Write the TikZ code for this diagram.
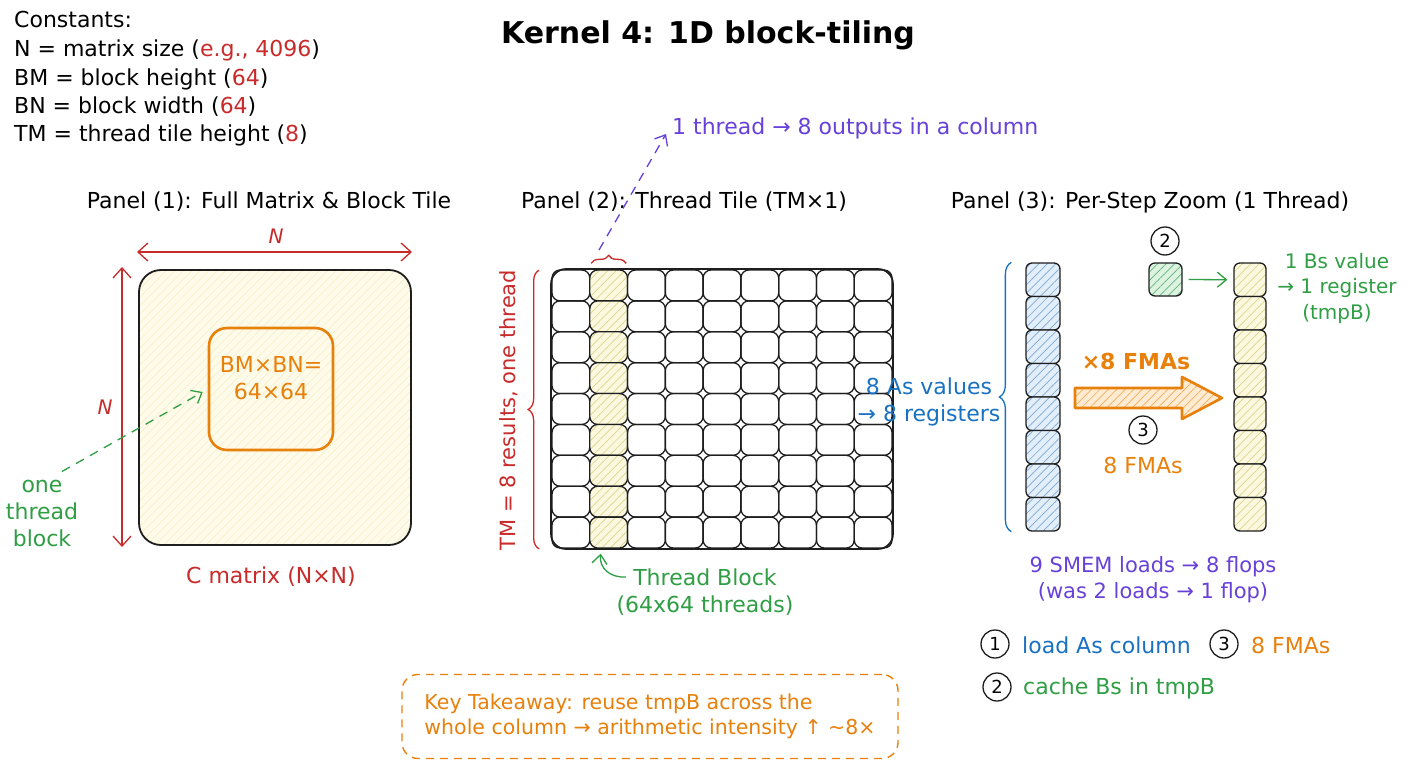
\documentclass[tikz,border=0pt]{standalone}
\usepackage{fontspec}
\setmainfont{DejaVu Sans}
\usetikzlibrary{arrows.meta,decorations.pathreplacing,patterns.meta,calc}
\definecolor{cred}{HTML}{C92A2A}
\definecolor{corange}{HTML}{E8800C}
\definecolor{cgreen}{HTML}{2F9E44}
\definecolor{cblue}{HTML}{1971C2}
\definecolor{cpurple}{HTML}{6741D9}
\definecolor{cdark}{HTML}{1E1E1E}
\definecolor{yfillA}{HTML}{FEFBEA}
\definecolor{yhatchA}{HTML}{F6EFC8}
\definecolor{yfillB}{HTML}{FCF8E0}
\definecolor{yhatchB}{HTML}{DCD58A}
\definecolor{bfill}{HTML}{E2EEF9}
\definecolor{bhatch}{HTML}{7FA8D2}
\definecolor{gfill}{HTML}{DDF3E2}
\definecolor{ghatch}{HTML}{64B476}
\definecolor{ofill}{HTML}{FEEBD3}
\definecolor{ohatch}{HTML}{F2AE55}
\begin{document}
\begin{tikzpicture}[x=1pt,y=-1pt,
  txt/.style={font=\fontsize{22}{27}\selectfont, inner sep=0pt, align=center},
  smalltxt/.style={font=\fontsize{20}{25.5}\selectfont, inner sep=0pt, align=center},
  hatch/.style n args={2}{preaction={fill=#1}, pattern={Lines[angle=45,distance=6pt,line width=0.7pt]}, pattern color=#2},
  barb/.style={-{Straight Barb[length=9pt,width=15pt,line width=1.3pt]}, line width=1.3pt},
  dbarb/.style={{Straight Barb[length=10pt,width=18pt,line width=1.3pt]}-{Straight Barb[length=10pt,width=18pt,line width=1.3pt]}, line width=1.3pt},
  gcell/.style={draw=cdark, line width=1.3pt, rounded corners=8pt, minimum width=37.8pt, minimum height=30.9pt, inner sep=0pt},
  rcell/.style={draw=cdark, line width=1.3pt, rounded corners=6pt, minimum height=33.5pt, inner sep=0pt},
  numc/.style={circle, draw=cdark, line width=1.3pt, minimum size=28pt, inner sep=0pt, font=\fontsize{18}{18}\selectfont},
  brc/.style={decorate, line width=1.3pt}
]
\useasboundingbox (0,0) rectangle (1408,768);
\fill[white] (0,0) rectangle (1408,768);

% ---------- constants ----------
\node[txt, anchor=base west] (k0) at (14,28) {Constants:};
\node[txt, anchor=base west] (k1) at (14,57) {N = matrix size (\textcolor{cred}{e.g., 4096})};
\node[txt, anchor=base west] (k2) at (14,85) {BM = block height (\textcolor{cred}{64})};
\node[txt, anchor=base west] (k3) at (14,113) {BN = block width (\textcolor{cred}{64})};
\node[txt, anchor=base west] (k4) at (14,141) {TM = thread tile height (\textcolor{cred}{8})};

% ---------- title ----------
\node[font=\fontsize{30}{36}\selectfont\bfseries, inner sep=0pt] (title) at (708,35) {Kernel 4: 1D block-tiling};

% ---------- panel titles ----------
\node[txt] (p1) at (269,202) {Panel (1): Full Matrix \& Block Tile};
\node[txt] (p2) at (684,202) {Panel (2): Thread Tile (TM×1)};
\node[txt] (p3) at (1150,202) {Panel (3): Per-Step Zoom (1 Thread)};

% ---------- panel 1 ----------
\node[draw=cdark, line width=1.8pt, rounded corners=22pt, minimum width=272pt, minimum height=275pt, hatch={yfillA}{yhatchA}] (cmat) at (275,407.5) {};
\node[draw=corange, line width=2.6pt, rounded corners=18pt, minimum width=124pt, minimum height=122pt] (blk) at (271,389) {};
\node[txt, text=corange] (blkt) at (271,378) {BM×BN=\\64×64};

\coordinate (nL) at (137,252);
\coordinate (nR) at (412,252);
\draw[cred, dbarb] (nL) -- (nR);
\node[txt, text=cred, font=\fontsize{20}{24}\selectfont\itshape] (nTop) at (276,236) {N};
\coordinate (nT) at (122,267);
\coordinate (nB) at (122,547);
\draw[cred, dbarb] (nT) -- (nB);
\node[txt, text=cred, font=\fontsize{20}{24}\selectfont\itshape] (nLeft) at (105,407) {N};
\node[txt, text=cred] (cmt) at (271,577) {C matrix (N×N)};

\node[txt, text=cgreen] (otb) at (42,513) {one\\thread\\block};
\draw[cgreen, barb, dashed, dash pattern=on 9pt off 7pt] ($(otb.north)+(20,-8)$) -- ($(blk.west)+(-5,3)$);

% ---------- panel 2 ----------
\foreach \i in {0,...,8}{
  \foreach \j in {0,...,8}{
    \ifnum\i=1
      \node[gcell, hatch={yfillB}{yhatchB}] (g\i\j) at ({552+37.78*(\i+0.5)},{270+30.89*(\j+0.5)}) {};
    \else
      \node[gcell] (g\i\j) at ({552+37.78*(\i+0.5)},{270+30.89*(\j+0.5)}) {};
    \fi
  }
}
\node[draw=cdark, line width=1.7pt, rounded corners=15pt, minimum width=342pt, minimum height=280pt] (grid) at (722,409) {};

\draw[cred, brc, decoration={brace, amplitude=8pt}] ($(g10.north west)+(2,-6)$) -- ($(g10.north east)+(-2,-6)$);
\coordinate (btip) at (599,250);
\node[txt, text=cpurple, anchor=west] (outt) at (672,128) {1 thread → 8 outputs in a column};
\draw[cpurple, barb, dashed, dash pattern=on 9pt off 7pt] (btip) -- ($(outt.west)+(-6,6)$);

\draw[cred, brc, decoration={brace, amplitude=11pt}] ($(grid.south west)+(-11,-1)$) -- ($(grid.north west)+(-11,2)$);
\node[txt, text=cred, rotate=90, font=\fontsize{21}{25}\selectfont] (tmt) at (509,410) {TM = 8 results, one thread};

\node[txt, text=cgreen] (tbt) at (705,592) {Thread Block\\(64x64 threads)};
\coordinate (tbtail) at (626,577);
\draw[cgreen, barb] (tbtail) .. controls (610,578) and (599,568) .. ($(g18.south)+(-8,5)$);

% ---------- panel 3 ----------
\foreach \k in {0,...,7}{
  \node[rcell, minimum width=34pt, hatch={bfill}{bhatch}] (a\k) at (1043,{263+33.5*(\k+0.5)}) {};
  \node[rcell, minimum width=32pt, hatch={yfillB}{yhatchB}] (c\k) at (1250,{263+33.5*(\k+0.5)}) {};
}
\draw[cblue, brc, decoration={brace, amplitude=12pt}] ($(a7.south west)+(-14,0)$) -- ($(a0.north west)+(-14,0)$);
\node[txt, text=cblue] (ast) at (929,402) {8 As values\\→ 8 registers};

\node[rcell, minimum width=33pt, minimum height=33pt, hatch={gfill}{ghatch}] (bs) at (1165.5,279.5) {};
\node[numc] (n2a) at (1165,241) {2};
\draw[cgreen, barb] ($(bs.east)+(6,0)$) -- ($(c0.west)+(-6,0)$);
\node[smalltxt, text=cgreen] (bst) at (1337,288) {1 Bs value\\→ 1 register\\(tmpB)};

\draw[corange, line width=2.6pt, line join=round, hatch={ofill}{ohatch}]
  (1075,388) -- (1182,388) -- (1182,377) -- (1222,398) -- (1182,419) -- (1182,408) -- (1075,408) -- cycle;
\node[txt, text=corange, font=\fontsize{22}{27}\selectfont\bfseries] (fmaT) at (1136,361) {×8 FMAs};
\node[numc] (n3a) at (1143,430) {3};
\node[txt, text=corange] (fmaB) at (1143,465) {8 FMAs};

\node[txt, text=cpurple, font=\fontsize{21}{26}\selectfont] (smem) at (1153,580) {9 SMEM loads → 8 flops\\(was 2 loads → 1 flop)};

% legend
\node[numc] (l1) at (995,644) {1};
\node[txt, text=cblue, anchor=west] (l1t) at (1022,645) {load As column};
\node[numc] (l3) at (1224,644) {3};
\node[txt, text=corange, anchor=west] (l3t) at (1251,645) {8 FMAs};
\node[numc] (l2) at (997,687) {2};
\node[txt, text=cgreen, anchor=west] (l2t) at (1023,688) {cache Bs in tmpB};

% ---------- key takeaway ----------
\node[draw=corange, line width=1.4pt, dash pattern=on 8pt off 6pt, rounded corners=16pt, minimum width=496pt, minimum height=84pt, text=corange, align=left, font=\fontsize{20.5}{25}\selectfont, inner sep=0pt] (kt) at (650,716.5) {Key Takeaway: reuse tmpB across the\\whole column → arithmetic intensity ↑ \textasciitilde 8×};

\end{tikzpicture}
\end{document}
